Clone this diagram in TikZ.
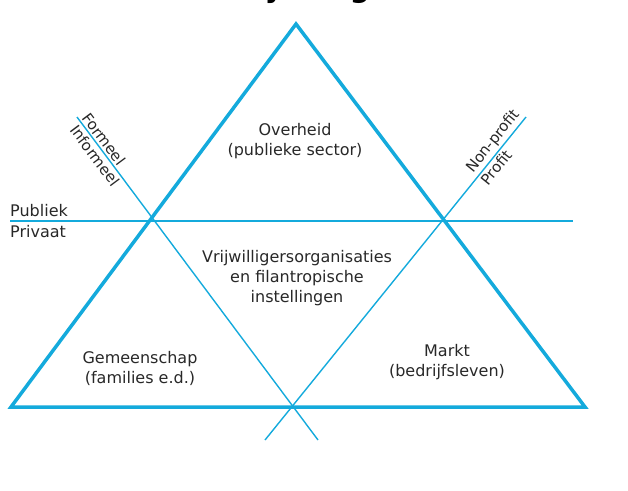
\documentclass[tikz,border=0pt]{standalone}
\usepackage{fontspec}
\setmainfont{DejaVu Sans}
\usetikzlibrary{calc}
\definecolor{tri}{RGB}{20,170,220}
\definecolor{txt}{RGB}{40,40,40}
\begin{document}
\begin{tikzpicture}[x=1pt,y=-1pt,
  lbl/.style={font=\fontsize{16}{20}\selectfont, text=txt, align=center, inner sep=0pt},
  rot/.style={font=\fontsize{15}{18}\selectfont, text=txt, inner sep=2.5pt},
  edge/.style={draw=tri, line width=3.5pt, line join=miter},
  thin/.style={draw=tri, line width=1.4pt}]
\useasboundingbox (0,0) rectangle (628,490);
\begin{scope}
\clip (0,0) rectangle (628,490);
\node[font=\bfseries\fontsize{28}{30}\selectfont, anchor=base] (t1) at (274,-3) {y};
\node[font=\bfseries\fontsize{28}{30}\selectfont, anchor=base] (t2) at (360,-3) {g};
\end{scope}
% corners
\coordinate (A) at (296,24);
\coordinate (B) at (11,407);
\coordinate (C) at (585,407);
% thin line ends
\coordinate (LT) at (77,117);
\coordinate (LB) at (318,440);
\coordinate (RT) at (526,117);
\coordinate (RB) at (265,440);
\coordinate (HL) at (10,221);
\coordinate (HR) at (573,221);
\draw[thin] (HL) -- (HR);
\draw[thin] (LT) -- (LB);
\draw[thin] (RT) -- (RB);
\draw[edge] (A) -- (B) -- (C) -- cycle;
% labels
\node[lbl] (overheid) at (295,141) {Overheid\\(publieke sector)};
\node[lbl] (vrijw) at (297,278) {Vrijwilligersorganisaties\\en filantropische\\instellingen};
\node[lbl] (gemeen) at (140,368) {Gemeenschap\\(families e.d.)};
\node[lbl] (markt) at (447,362) {Markt\\(bedrijfsleven)};
\node[lbl, anchor=base west] (publiek) at (10,216) {Publiek};
\node[lbl, anchor=base west] (privaat) at (10,237) {Privaat};
\node[rot, rotate=-53.3, anchor=south] (formeel) at ($(LT)!0.084!(LB)$) {Formeel};
\node[rot, rotate=-53.3, anchor=north] (informeel) at ($(LT)!0.104!(LB)$) {Informeel};
\node[rot, rotate=51.1, anchor=south] (nonprofit) at ($(RT)!0.095!(RB)$) {Non-profit};
\node[rot, rotate=51.1, anchor=north] (profit) at ($(RT)!0.14!(RB)$) {Profit};
\end{tikzpicture}
\end{document}
